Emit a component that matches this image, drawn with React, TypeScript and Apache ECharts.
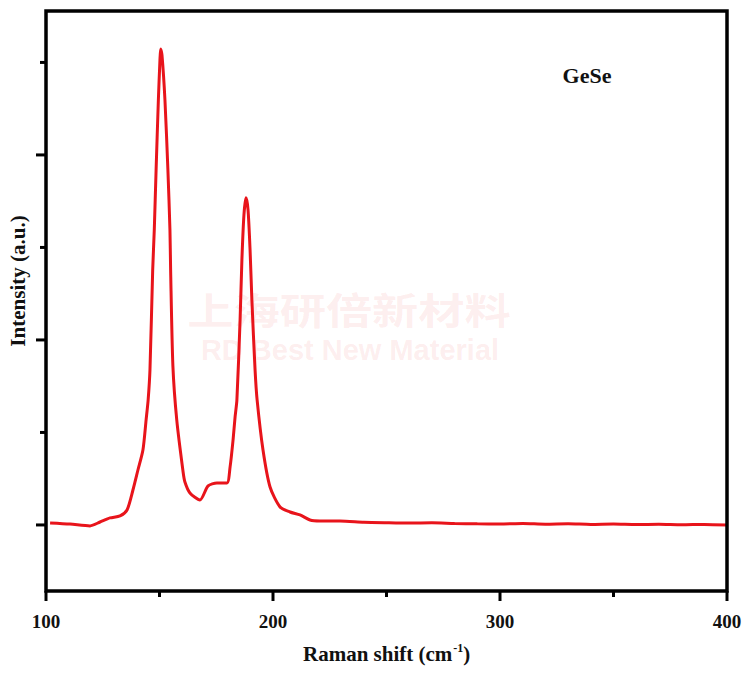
import React, { useEffect, useRef } from "react";
import * as echarts from "echarts";

const ramanShift: number[] = [
  101.8, 110.6, 119.4, 123.8, 128.2, 132.6, 135.7, 138.3, 140.5, 142.7, 144.1, 145.0, 145.8,
  147.0, 147.7, 148.5, 149.5, 150.2, 150.5, 151.1, 152.4, 153.7, 154.6, 154.9, 155.9, 157.6,
  160.4, 161.2, 163.4, 167.8, 171.4, 175.3, 179.7, 181.1, 182.4, 183.3, 184.1, 185.5,
  186.3, 187.2, 188.1, 189.0, 189.9, 190.7, 192.1, 193.0, 195.6, 198.7, 203.1, 207.5, 211.9,
  216.3, 220.7, 229.5, 240, 250, 260, 270, 280, 290, 300, 310, 320, 330, 340, 350, 360, 370,
  380, 390, 400,
];
const intensity: number[] = [
  11, 5, -5, 16, 38, 49, 81, 189, 297, 405, 568, 676, 838,
  1378, 1595, 1919, 2297, 2514, 2573, 2540, 2297, 1919, 1595, 1378, 860, 568,
  286, 232, 173, 135, 211, 227, 227, 314, 459, 584, 676, 1108,
  1432, 1676, 1768, 1703, 1486, 1216, 838, 676, 405, 205, 97, 70, 54,
  27, 22, 22, 15, 12, 10, 12, 8, 6, 5, 8, 4, 6, 3, 5, 2, 4,
  1, 3, 0,
];
const xMajorTicks: number[] = [100, 200, 300, 400];
const xMinorTicks: number[] = [150, 250, 350];
const yMajorTicks: number[] = [0, 1000, 2000];
const yMinorTicks: number[] = [500, 1500, 2500];
const X_MIN = 100;
const X_MAX = 400;
const Y_MIN = -357;
const Y_MAX = 2778;

const serif = "'Liberation Serif', 'Times New Roman', serif";

export default function App() {
  const ref = useRef<HTMLDivElement>(null);
  useEffect(() => {
    if (!ref.current) return;
    const chart = echarts.init(ref.current, undefined, { renderer: "svg" });
    const data = ramanShift.map((x, i) => [x, intensity[i]]);
    chart.setOption({
      animation: false,
      backgroundColor: "#ffffff",
      grid: { left: 46, right: 23, top: 11, bottom: 82 },
      xAxis: {
        type: "value",
        min: X_MIN,
        max: X_MAX,
        interval: 100,
        axisLine: { show: false, onZero: false },
        axisTick: { show: false },
        splitLine: { show: false },
        axisLabel: {
          margin: 21,
          fontFamily: serif,
          fontWeight: "bold",
          fontSize: 19,
          color: "#111",
        },
      },
      yAxis: {
        type: "value",
        min: Y_MIN,
        max: Y_MAX,
        axisLine: { show: false, onZero: false },
        axisTick: { show: false },
        axisLabel: { show: false },
        splitLine: { show: false },
      },
      series: [
        {
          type: "line",
          data,
          showSymbol: false,
          smooth: 0.25,
          z: 5,
          lineStyle: { color: "#e8141b", width: 3 },
        },
      ],
    });

    const px = (v: number) => chart.convertToPixel({ xAxisIndex: 0 }, v) as number;
    const py = (v: number) => chart.convertToPixel({ yAxisIndex: 0 }, v) as number;
    const left = px(X_MIN);
    const right = px(X_MAX);
    const bottom = py(Y_MIN);
    const top = py(Y_MAX);
    const tickStyle = { stroke: "#000", lineWidth: 3 };

    const ticks: any[] = [];
    xMajorTicks.forEach((v) =>
      ticks.push({ type: "line", z: 10, shape: { x1: px(v), y1: bottom, x2: px(v), y2: bottom + 10 }, style: tickStyle })
    );
    xMinorTicks.forEach((v) =>
      ticks.push({ type: "line", z: 10, shape: { x1: px(v), y1: bottom, x2: px(v), y2: bottom + 6 }, style: tickStyle })
    );
    yMajorTicks.forEach((v) =>
      ticks.push({ type: "line", z: 10, shape: { x1: left - 10, y1: py(v), x2: left, y2: py(v) }, style: tickStyle })
    );
    yMinorTicks.forEach((v) =>
      ticks.push({ type: "line", z: 10, shape: { x1: left - 6, y1: py(v), x2: left, y2: py(v) }, style: tickStyle })
    );

    chart.setOption({
      graphic: {
        elements: [
          {
            type: "text",
            z: 0,
            x: 349,
            y: 309,
            scaleX: 1.25,
            style: {
              text: "上海研倍新材料",
              fontFamily: "'Noto Sans CJK SC', sans-serif",
              fontWeight: "bold",
              fontSize: 37,
              fill: "rgba(240, 90, 90, 0.11)",
              textAlign: "center",
              textVerticalAlign: "middle",
            },
          },
          {
            type: "text",
            z: 0,
            x: 350,
            y: 350,
            style: {
              text: "RD Best New Material",
              fontFamily: "'Liberation Sans', Arial, sans-serif",
              fontWeight: "bold",
              fontSize: 29,
              fill: "rgba(240, 90, 90, 0.11)",
              textAlign: "center",
              textVerticalAlign: "middle",
            },
          },
          {
            type: "rect",
            z: 10,
            shape: { x: left, y: top, width: right - left, height: bottom - top },
            style: { fill: "none", stroke: "#000", lineWidth: 3.5 },
          },
          ...ticks,
          {
            type: "text",
            x: 587,
            y: 75,
            style: {
              text: "GeSe",
              fontFamily: serif,
              fontWeight: "bold",
              fontSize: 22,
              fill: "#111",
              textAlign: "center",
              textVerticalAlign: "middle",
            },
          },
          {
            type: "text",
            x: 303,
            y: 654,
            style: {
              text: "{a|Raman shift (cm}{s|-1}{a|)}",
              textVerticalAlign: "middle",
              rich: {
                a: { fontFamily: serif, fontWeight: "bold", fontSize: 21, fill: "#111" },
                s: {
                  fontFamily: serif,
                  fontWeight: "bold",
                  fontSize: 12,
                  fill: "#111",
                  verticalAlign: "top",
                  padding: [0, 0, 12, 1],
                },
              },
            },
          },
          {
            type: "text",
            x: 18,
            y: 281,
            rotation: Math.PI / 2,
            style: {
              text: "Intensity (a.u.)",
              fontFamily: serif,
              fontWeight: "bold",
              fontSize: 21,
              fill: "#111",
              textAlign: "center",
              textVerticalAlign: "middle",
            },
          },
        ],
      },
    });
    return () => chart.dispose();
  }, []);
  return (
    <div
      ref={ref}
      style={{ position: "fixed", left: 0, top: 0, width: 750, height: 673 }}
    />
  );
}
